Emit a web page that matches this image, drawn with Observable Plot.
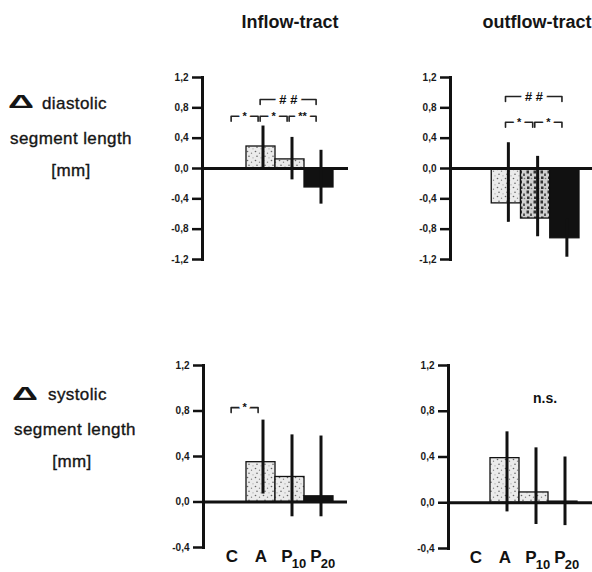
<!DOCTYPE html>
<html><head><meta charset="utf-8">
<script src="https://cdn.jsdelivr.net/npm/d3@7"></script>
<script src="https://cdn.jsdelivr.net/npm/@observablehq/plot@0.6"></script>
<style>
html,body{margin:0;padding:0;background:#fff;}
#page{position:relative;width:592px;height:572px;overflow:hidden;font-family:"Liberation Sans",Arial,sans-serif;color:#151515;}
.abs{position:absolute;white-space:nowrap;}
.title{font-weight:bold;font-size:18px;line-height:18px;transform:translateX(-50%);}
.lab{font-size:17px;line-height:17px;letter-spacing:0.4px;-webkit-text-stroke:0.35px #151515;}
.ctr{transform:translateX(-50%);}
.delta{font-weight:bold;font-size:19px;line-height:19px;transform:scaleX(1.9);transform-origin:left center;}
.panel{position:absolute;}
.panel svg{overflow:visible;}
</style></head><body>
<svg width="0" height="0" style="position:absolute">
<defs>
<pattern id="stipple" patternUnits="userSpaceOnUse" width="8" height="9">
<rect width="8" height="9" fill="#ebebeb"/>
<circle cx="1.5" cy="1.5" r="0.8" fill="#666"/>
<circle cx="5.5" cy="3.2" r="0.7" fill="#888"/>
<circle cx="3" cy="6.3" r="0.8" fill="#666"/>
<circle cx="7" cy="7.8" r="0.6" fill="#999"/>
</pattern>
<pattern id="stippleDark" patternUnits="userSpaceOnUse" width="7" height="10">
<rect width="7" height="10" fill="#d0d0d0"/>
<rect x="0.5" y="0.5" width="2.5" height="3" fill="#333"/>
<rect x="4" y="3.5" width="2" height="2.5" fill="#555"/>
<rect x="1" y="6.5" width="2.5" height="2.5" fill="#333"/>
<circle cx="5.5" cy="8.5" r="0.8" fill="#777"/>
</pattern>
</defs></svg>
<div id="page">
  <div class="abs title" style="left:290px;top:13px;">Inflow-tract</div>
  <div class="abs title" style="left:537px;top:13px;">outflow-tract</div>

  <div class="abs delta" style="left:8px;top:92px;">Δ</div>
  <div class="abs lab" style="left:42px;top:95px;">diastolic</div>
  <div class="abs lab ctr" style="left:71px;top:130px;">segment length</div>
  <div class="abs lab ctr" style="left:71px;top:162px;">[mm]</div>

  <div class="abs delta" style="left:12px;top:384px;">Δ</div>
  <div class="abs lab" style="left:48px;top:386px;">systolic</div>
  <div class="abs lab ctr" style="left:75px;top:421px;">segment length</div>
  <div class="abs lab ctr" style="left:72px;top:453px;">[mm]</div>

  <div class="panel" id="tl" style="left:150px;top:60px;"></div>
  <div class="panel" id="tr" style="left:400px;top:60px;"></div>
  <div class="panel" id="bl" style="left:150px;top:350px;"></div>
  <div class="panel" id="br" style="left:400px;top:350px;"></div>
</div>
<script>
// ---- data ----
const categories = ["C", "A", "P10", "P20"];
const labelMain = ["C", "A", "P", "P"];
const labelSub = ["", "", "10", "20"];
const yTicksTop = [-1.2, -0.8, -0.4, 0, 0.4, 0.8, 1.2];
const yTicksBottom = [-0.4, 0, 0.4, 0.8, 1.2];

// diastolic, inflow-tract
const diaInflowMean = [0, 0.29, 0.12, -0.25];
const diaInflowLow  = [null, 0.0, -0.15, -0.47];
const diaInflowHigh = [null, 0.56, 0.41, 0.24];
const diaInflowBrackets = [
  {from: "C", to: "A", label: "*", y: 0.69},
  {from: "A", to: "P10", label: "*", y: 0.69},
  {from: "P10", to: "P20", label: "**", y: 0.69},
  {from: "A", to: "P20", label: "# #", y: 0.91}
];

// diastolic, outflow-tract
const diaOutflowMean = [0, -0.46, -0.66, -0.92];
const diaOutflowLow  = [null, -0.71, -0.90, -1.17];
const diaOutflowHigh = [null, 0.34, 0.16, -0.67];
const diaOutflowBrackets = [
  {from: "A", to: "P10", label: "*", y: 0.61},
  {from: "P10", to: "P20", label: "*", y: 0.61},
  {from: "A", to: "P20", label: "# #", y: 0.95}
];

// systolic, inflow-tract
const sysInflowMean = [0, 0.35, 0.22, 0.05];
const sysInflowLow  = [null, 0.07, -0.13, -0.13];
const sysInflowHigh = [null, 0.72, 0.59, 0.58];
const sysInflowBrackets = [
  {from: "C", to: "A", label: "*", y: 0.83}
];

// systolic, outflow-tract
const sysOutflowMean = [0, 0.39, 0.09, 0.01];
const sysOutflowLow  = [null, -0.08, -0.19, -0.20];
const sysOutflowHigh = [null, 0.62, 0.48, 0.40];
const sysOutflowNotes = [{from: "A", to: "P20", label: "n.s.", y: 0.91}];

// ---- styles ----
const fillsDefault = {C: "white", A: "url(#stipple)", P10: "url(#stipple)", P20: "#111"};
const fillsOutflowDia = {C: "white", A: "url(#stipple)", P10: "url(#stippleDark)", P20: "#111"};
const fontFamily = "'Liberation Sans', Arial, sans-serif";
const fmt = d => (d < 0 ? "-" : "") + Math.abs(d).toFixed(1).replace(".", ",");

function panel(cfg) {
  const {el, left, top, width, height, axisX, barX0, barX1, zeroEnd, yTop, yBottom,
         domain, ticks, mean, low, high, brackets = [], notes = [], fills, showLabels} = cfg;
  const rows = categories.map((c, i) => ({c, i, m: mean[i], lo: low[i], hi: high[i]}));
  const idx = c => categories.indexOf(c);
  const pxPerUnit = (yBottom - yTop) / (domain[1] - domain[0]);
  const tickLen = 5 / pxPerUnit;
  const pts = [];
  const labs = [];
  brackets.forEach((b, k) => {
    const x1 = idx(b.from) - 0.03, x2 = idx(b.to) - 0.1;
    pts.push({k, x: x1, y: b.y - tickLen}, {k, x: x1, y: b.y}, {k, x: x2, y: b.y}, {k, x: x2, y: b.y - tickLen});
    labs.push({x: (x1 + x2) / 2, y: b.y, t: b.label});
  });
  const starLabs = labs.filter(d => d.t.includes("*"));
  const hashLabs = labs.filter(d => !d.t.includes("*"));
  const noteRows = notes.map(n => ({x: (idx(n.from) + idx(n.to)) / 2, y: n.y, t: n.label}));
  const subRows = rows.filter(d => labelSub[d.i] !== "");
  const plainRows = rows.filter(d => labelSub[d.i] === "");
  const marks = [
    Plot.rectY(rows.filter(d => d.m !== 0), {
      x1: d => d.i - 0.5, x2: d => d.i + 0.5, y1: 0, y2: "m",
      fill: d => fills[d.c], stroke: "#111", strokeWidth: 1.3
    }),
    Plot.ruleY([0], {stroke: "#111", strokeWidth: 3}),
    Plot.ruleX(rows.filter(d => d.lo != null), {x: "i", y1: "lo", y2: "hi", stroke: "#111", strokeWidth: 3, dx: 2}),
    Plot.frame({anchor: "left", stroke: "#111", strokeWidth: 3}),
    Plot.axisY({ticks, tickSize: 10, tickPadding: 4, tickFormat: fmt, stroke: "#111", strokeWidth: 2.5,
                fontSize: 10, fontWeight: "bold", fill: "#1a1a1a", label: null}),
    Plot.line(pts, {x: "x", y: "y", z: "k", stroke: "#222", strokeWidth: 1.6}),
    Plot.text(starLabs, {x: "x", y: "y", text: "t", fill: "#111", stroke: "white", strokeWidth: 7,
                         fontWeight: "bold", fontSize: 11}),
    Plot.text(hashLabs, {x: "x", y: "y", text: "t", fill: "#111", stroke: "white", strokeWidth: 8,
                         fontWeight: "bold", fontStyle: "italic", fontSize: 13}),
    Plot.text(noteRows, {x: "x", y: "y", text: "t", fill: "#111", fontWeight: "bold", fontSize: 14, dx: 11})
  ];
  if (showLabels) {
    marks.push(
      Plot.text(plainRows, {x: "i", text: d => labelMain[d.i], frameAnchor: "bottom", dy: 9,
                            lineAnchor: "middle", fontSize: 17, fontWeight: "bold", fill: "#111"}),
      Plot.text(subRows, {x: "i", text: d => labelMain[d.i], frameAnchor: "bottom", dy: 9, dx: -3,
                          lineAnchor: "middle", fontSize: 17, fontWeight: "bold", fill: "#111"}),
      Plot.text(subRows, {x: "i", text: d => labelSub[d.i], frameAnchor: "bottom", dy: 16, dx: 9,
                          lineAnchor: "middle", fontSize: 13, fontWeight: "bold", fill: "#111"})
    );
  }
  const chart = Plot.plot({
    width, height,
    marginLeft: axisX - left, marginRight: left + width - zeroEnd,
    marginTop: yTop - top, marginBottom: top + height - yBottom,
    x: {type: "linear", domain: [-0.5, 3.5], range: [barX0 - left, barX1 - left], axis: null},
    y: {domain, axis: null},
    color: {type: "identity"},
    style: {background: "transparent", overflow: "visible", fontFamily},
    marks
  });
  document.getElementById(el).appendChild(chart);
}

panel({el: "tl", left: 150, top: 60, width: 200, height: 210, axisX: 202, barX0: 217, barX1: 333, zeroEnd: 348,
       yTop: 77, yBottom: 259, domain: [-1.2, 1.2], ticks: yTicksTop,
       mean: diaInflowMean, low: diaInflowLow, high: diaInflowHigh, brackets: diaInflowBrackets,
       fills: fillsDefault, showLabels: false});
panel({el: "tr", left: 400, top: 60, width: 192, height: 210, axisX: 450, barX0: 462, barX1: 579, zeroEnd: 592,
       yTop: 77, yBottom: 259, domain: [-1.2, 1.2], ticks: yTicksTop,
       mean: diaOutflowMean, low: diaOutflowLow, high: diaOutflowHigh, brackets: diaOutflowBrackets,
       fills: fillsOutflowDia, showLabels: false});
panel({el: "bl", left: 150, top: 350, width: 200, height: 222, axisX: 203, barX0: 217, barX1: 333, zeroEnd: 347,
       yTop: 365, yBottom: 547, domain: [-0.4, 1.2], ticks: yTicksBottom,
       mean: sysInflowMean, low: sysInflowLow, high: sysInflowHigh, brackets: sysInflowBrackets,
       fills: fillsDefault, showLabels: true});
panel({el: "br", left: 400, top: 350, width: 192, height: 222, axisX: 448, barX0: 461, barX1: 577, zeroEnd: 592,
       yTop: 365, yBottom: 548, domain: [-0.4, 1.2], ticks: yTicksBottom,
       mean: sysOutflowMean, low: sysOutflowLow, high: sysOutflowHigh, notes: sysOutflowNotes,
       fills: fillsDefault, showLabels: true});
</script>
</body></html>
